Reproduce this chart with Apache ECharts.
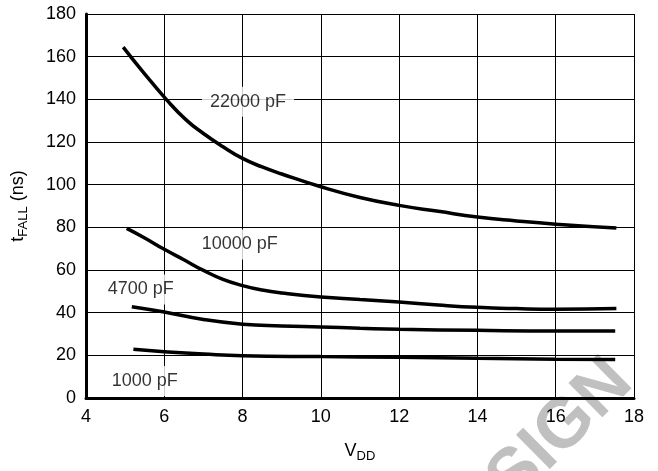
<!DOCTYPE html>
<html>
<head>
<meta charset="utf-8">
<script src="https://cdn.jsdelivr.net/npm/echarts@6/dist/echarts.min.js"></script>
<style>
html,body{margin:0;padding:0;background:#fff;}
#chart{width:658px;height:471px;}
</style>
</head>
<body>
<div id="chart"></div>
<script>
// Fall time (ns) vs VDD for several load capacitances
var curve22000 = [[4.95,164.5],[5.45,153],[6.05,140],[6.55,130.5],[7.0,124],[7.5,117.8],[8,112.3],[8.5,108.3],[9,105],[10,99],[11,94],[12,90.3],[13,87.5],[14,84.8],[15,83],[16,81.5],[17.55,79.7]];
var curve10000 = [[5.04,79.5],[5.5,75],[6,69.7],[6.5,64.8],[7,59.8],[7.5,55.6],[8,52.7],[8.5,50.6],[9,49.2],[10,47.3],[11,46.2],[12,45],[13,43.6],[14,42.5],[15,41.9],[16,41.6],[17.55,41.9]];
var curve4700 = [[5.17,42.8],[6,40.3],[7,36.8],[8,34.6],[9,33.8],[10,33.3],[11,32.7],[12,32.2],[14,31.7],[16,31.4],[17.52,31.4]];
var curve1000 = [[5.21,22.8],[6,21.7],[7,20.6],[8,19.8],[10,19.4],[12,19.1],[14,18.6],[16,18.2],[17.52,18.1]];

var labelNames = ['22000 pF','10000 pF','4700 pF','1000 pF'];
var labelX = [8.14, 7.93, 5.40, 5.50];
var labelY = [138.9, 72.0, 50.9, 8.0];

var xMin = 4, xMax = 18, xStep = 2;
var yMin = 0, yMax = 180, yStep = 20;

var FONT = 'Liberation Sans, Arial, Helvetica, sans-serif';

var chart = echarts.init(document.getElementById('chart'), null, {renderer:'canvas'});

function curveSeries(data){
  return {
    type:'line', data:data, showSymbol:false, symbol:'none',
    smooth:0.5,
    lineStyle:{color:'#000', width:3.5},
    z:3, silent:true
  };
}

var labelData = labelNames.map(function(n,i){ return {name:n, value:[labelX[i], labelY[i]]}; });

var option = {
  animation:false,
  backgroundColor:'#fff',
  graphic:[{
    type:'text', z:-10,
    x:646, y:396, rotation:0.78,
    style:{text:'NOT RECOMMENDED FOR NEW DESIGN', fill:'#c0c0c0', font:'bold 70px ' + FONT, textAlign:'right', textVerticalAlign:'bottom'}
  }],
  grid:{left:86, right:24, top:14, bottom:73, show:false},
  xAxis:{
    type:'value', min:xMin, max:xMax, interval:xStep,
    name:'{a|V}{b|DD}', nameLocation:'middle', nameGap:44,
    nameTextStyle:{rich:{
      a:{fontSize:18, fontFamily:FONT, color:'#000', verticalAlign:'top'},
      b:{fontSize:13, fontFamily:FONT, color:'#000', verticalAlign:'bottom', padding:[8,0,0,0]}
    }},
    axisLine:{show:true, onZero:false, lineStyle:{color:'#000', width:3}},
    axisTick:{show:false},
    axisLabel:{color:'#000', fontSize:18, fontFamily:FONT, margin:10},
    splitLine:{show:true, lineStyle:{color:'#000', width:1}}
  },
  yAxis:{
    type:'value', min:yMin, max:yMax, interval:yStep,
    name:'{a|t}{b|FALL}{a| (ns)}', nameLocation:'middle', nameGap:56, nameRotate:90,
    nameTextStyle:{rich:{
      a:{fontSize:18, fontFamily:FONT, color:'#000', verticalAlign:'top'},
      b:{fontSize:13, fontFamily:FONT, color:'#000', verticalAlign:'bottom', padding:[8,0,0,0]}
    }},
    axisLine:{show:true, onZero:false, lineStyle:{color:'#000', width:3}},
    axisTick:{show:false},
    axisLabel:{color:'#000', fontSize:18, fontFamily:FONT, margin:10},
    splitLine:{show:true, lineStyle:{color:'#000', width:1}}
  },
  series:[
    curveSeries(curve22000),
    curveSeries(curve10000),
    curveSeries(curve4700),
    curveSeries(curve1000),
    {
      type:'scatter', data:labelData, symbolSize:0, z:4, silent:true,
      label:{show:true, position:'inside', formatter:'{b}', color:'#000', fontSize:18, fontFamily:FONT,
             backgroundColor:'#fff', padding:[6,8]}
    }
  ]
};
chart.setOption(option);
</script>
</body>
</html>
